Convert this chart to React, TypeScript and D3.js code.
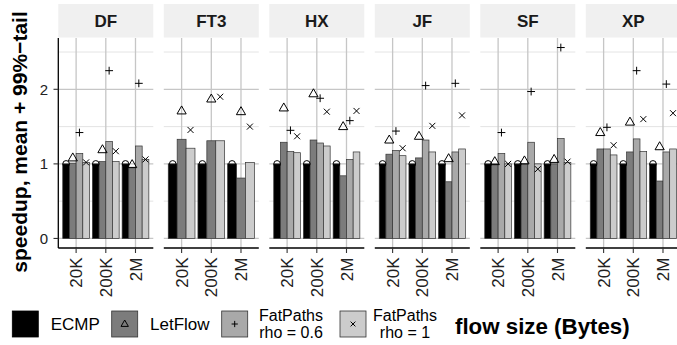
import React from "react";
import * as d3 from "d3";

const topologies = ["DF", "FT3", "HX", "JF", "SF", "XP"];
const flowSizes = ["20K", "200K", "2M"];
const seriesNames = ["ECMP", "LetFlow", "FatPaths rho = 0.6", "FatPaths rho = 1"];
const legendLines = [["ECMP"], ["LetFlow"], ["FatPaths", "rho = 0.6"], ["FatPaths", "rho = 1"]];
const seriesFills = ["#000000", "#7C7C7C", "#A9A9A9", "#CCCCCC"];
const seriesShapes = ["circle", "triangle", "plus", "cross"];
const yMajorTicks = [0, 1, 2];
const yMinorTicks = [0.5, 1.5, 2.5];

// mean speedup (bars), rows = topologies, cols = flow sizes
const ecmpMean = [[1, 1, 1], [1, 1, 1], [1, 1, 1], [1, 1, 1], [1, 1, 1], [1, 1, 1]];
const letflowMean = [[1.01, 1.03, 0.955], [1.33, 1.31, 0.81], [1.29, 1.32, 0.84], [1.13, 1.08, 0.76], [1.0, 1.0, 1.0], [1.2, 1.16, 0.77]];
const fp06Mean = [[1.14, 1.3, 1.24], [null, null, null], [1.165, 1.28, 1.06], [1.18, 1.32, 1.16], [1.14, 1.29, 1.34], [1.2, 1.335, 1.16]];
const fp1Mean = [[1.02, 1.03, 1.06], [1.21, 1.31, 1.02], [1.15, 1.24, 1.16], [1.11, 1.16, 1.2], [1.0, 1.0, 1.02], [1.12, 1.165, 1.2]];

// 99%-tail speedup (points)
const ecmpTail = [[1, 1, 1], [1, 1, 1], [1, 1, 1], [1, 1, 1], [1, 1, 1], [1, 1, 1]];
const letflowTail = [[1.08, 1.19, 0.99], [1.71, 1.87, 1.7], [1.75, 1.94, 1.5], [1.32, 1.37, 1.07], [1.03, 1.04, 1.06], [1.42, 1.56, 1.23]];
const fp06Tail = [[1.42, 2.25, 2.08], [null, null, null], [1.45, 1.88, 1.58], [1.44, 2.05, 2.08], [1.42, 1.97, 2.56], [1.49, 2.25, 2.07]];
const fp1Tail = [[1.02, 1.17, 1.06], [1.455, 1.9, 1.5], [1.37, 1.7, 1.71], [1.21, 1.51, 1.65], [1.0, 0.93, 1.03], [1.25, 1.6, 1.68]];

const meanBySeries = [ecmpMean, letflowMean, fp06Mean, fp1Mean];
const tailBySeries = [ecmpTail, letflowTail, fp06Tail, fp1Tail];

const FONT = "'Liberation Sans', Arial, Helvetica, sans-serif";

function Marker({ shape, x, y, s = 1 }: { shape: string; x: number; y: number; s?: number }) {
  const st = { stroke: "#000", strokeWidth: 1, fill: "none" } as any;
  if (shape === "circle") return <circle cx={x} cy={y} r={3.3 * s} {...st} />;
  if (shape === "triangle") {
    const w = 4.6 * s, h1 = 5 * s, h2 = 3 * s;
    return <path d={`M${x},${y - h1}L${x + w},${y + h2}L${x - w},${y + h2}Z`} {...st} />;
  }
  if (shape === "plus") {
    const a = 3.9 * s;
    return <path d={`M${x - a},${y}H${x + a}M${x},${y - a}V${y + a}`} {...st} />;
  }
  const a = 3 * s;
  return <path d={`M${x - a},${y - a}L${x + a},${y + a}M${x - a},${y + a}L${x + a},${y - a}`} {...st} />;
}

export default function App() {
  const W = 677, H = 345;
  const panelTop = 38, panelBottom = 248;
  const xPanel = d3.scaleBand<string>().domain(topologies).range([58.3, 680.8]).paddingInner(10.5 / 105.5).paddingOuter(0);
  const pw = xPanel.bandwidth();
  const xCat = d3.scaleBand<string>().domain(flowSizes).range([0, pw]).paddingInner(0.1).paddingOuter(0.15);
  const y = d3.scaleLinear().domain([-0.128, 2.688]).range([panelBottom, panelTop]);

  return (
    <svg width={W} height={H} style={{ position: "absolute", left: 0, top: 0, background: "#fff" }} fontFamily={FONT}>
      <rect x={0} y={0} width={W} height={H} fill="#fff" />
      {topologies.map((topo, ti) => {
        const px = xPanel(topo)!;
        const present = seriesNames.filter((_, si) => meanBySeries[si][ti].some((v) => v != null));
        const xSer = d3.scaleBand<string>().domain(present).range([0, xCat.bandwidth()]).padding(0);
        return (
          <g key={topo}>
            <rect x={px} y={4} width={pw} height={33.5} fill="#F0F0F0" />
            <text x={px + pw / 2} y={21} textAnchor="middle" dominantBaseline="central" fontSize={17} fontWeight="bold" fill="#1a1a1a">{topo}</text>
            {yMinorTicks.map((t) => (
              <line key={"mn" + t} x1={px} x2={px + pw} y1={y(t)} y2={y(t)} stroke="#D9D9D9" strokeWidth={0.7} />
            ))}
            {yMajorTicks.map((t) => (
              <line key={"mj" + t} x1={px} x2={px + pw} y1={y(t)} y2={y(t)} stroke="#C6C6C6" strokeWidth={1.3} />
            ))}
            {flowSizes.map((f) => {
              const cx = px + xCat(f)! + xCat.bandwidth() / 2;
              return <line key={"v" + f} x1={cx} x2={cx} y1={panelTop} y2={panelBottom} stroke="#C6C6C6" strokeWidth={1.3} />;
            })}
            {flowSizes.map((f, fi) =>
              present.map((s) => {
                const si = seriesNames.indexOf(s);
                const v = meanBySeries[si][ti][fi];
                if (v == null) return null;
                const bx = px + xCat(f)! + xSer(s)!;
                return (
                  <rect key={f + s} x={bx} y={y(v)} width={xSer.bandwidth()} height={y(0) - y(v)}
                    fill={seriesFills[si]} stroke="#333" strokeWidth={0.7} />
                );
              })
            )}
            {flowSizes.map((f, fi) =>
              present.map((s) => {
                const si = seriesNames.indexOf(s);
                const v = tailBySeries[si][ti][fi];
                if (v == null) return null;
                const cx = px + xCat(f)! + xSer(s)! + xSer.bandwidth() / 2;
                return <Marker key={"p" + f + s} shape={seriesShapes[si]} x={cx} y={y(v)} />;
              })
            )}
            <line x1={px} x2={px + pw} y1={panelBottom} y2={panelBottom} stroke="#000" strokeWidth={1.3} />
            {flowSizes.map((f) => {
              const cx = px + xCat(f)! + xCat.bandwidth() / 2;
              return (
                <g key={"t" + f}>
                  <line x1={cx} x2={cx} y1={panelBottom} y2={panelBottom + 5} stroke="#333" strokeWidth={1.1} />
                  <text transform={`translate(${cx},${panelBottom + 9.5}) rotate(-90)`} textAnchor="end" dy="0.36em" fontSize={17} fill="#222">{f}</text>
                </g>
              );
            })}
          </g>
        );
      })}
      <line x1={58.3} x2={58.3} y1={panelTop} y2={panelBottom} stroke="#000" strokeWidth={1.3} />
      {yMajorTicks.map((t) => (
        <g key={"yt" + t}>
          <line x1={53.5} x2={58.3} y1={y(t)} y2={y(t)} stroke="#333" strokeWidth={1.1} />
          <text x={48} y={y(t)} textAnchor="end" dominantBaseline="central" fontSize={15} fill="#222">{t}</text>
        </g>
      ))}
      <text transform={`translate(27,${(panelTop + panelBottom) / 2 - 1}) rotate(-90)`} textAnchor="middle" fontSize={21} fontWeight="bold" fill="#000">
        speedup, mean + 99%−tail
      </text>
      {seriesNames.map((s, si) => {
        const kx = [12.3, 111.7, 221.7, 340][si];
        const ky = 311;
        const lines = legendLines[si];
        const tx = [50.7, 150, 291, 405][si];
        return (
          <g key={"lg" + s}>
            <rect x={kx} y={ky} width={26} height={26} fill={seriesFills[si]} stroke={si === 0 ? "#000" : "#333"} strokeWidth={0.8} />
            {si > 0 && <Marker shape={seriesShapes[si]} x={kx + 13} y={ky + 13} s={0.8} />}
            {lines.length === 1 ? (
              <text x={tx} y={ky + 13} dominantBaseline="central" fontSize={17} fill="#000">{lines[0]}</text>
            ) : (
              <g>
                <text x={tx} y={320.5} textAnchor="middle" fontSize={16} fill="#000">{lines[0]}</text>
                <text x={tx} y={337.5} textAnchor="middle" fontSize={16} fill="#000">{lines[1]}</text>
              </g>
            )}
          </g>
        );
      })}
      <text x={455} y={334} fontSize={22.3} fontWeight="bold" fill="#000">flow size (Bytes)</text>
    </svg>
  );
}
